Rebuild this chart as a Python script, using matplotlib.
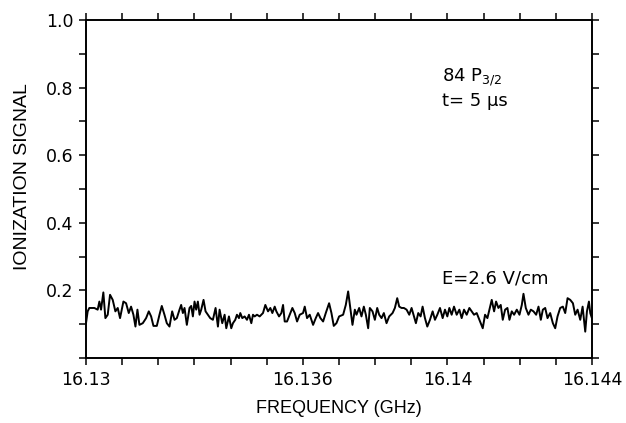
import matplotlib
matplotlib.use("Agg")
import matplotlib.pyplot as plt
import numpy as np

plt.rcParams['font.family'] = ['Liberation Sans', 'DejaVu Sans']
plt.rcParams['mathtext.fontset'] = 'custom'
plt.rcParams['mathtext.rm'] = 'DejaVu Sans'
plt.rcParams['mathtext.it'] = 'DejaVu Sans'

# frequency offset from 16.130 GHz, in MHz
freq_offset_mhz = [
    0.000, 0.046, 0.092, 0.231, 0.323, 0.370, 0.416, 0.480, 0.536, 0.601, 0.665, 0.739, 0.813, 0.878, 0.942,
    1.035, 1.109, 1.183, 1.247, 1.312, 1.368, 1.423, 1.478, 1.571, 1.663, 1.737, 1.802, 1.866, 1.959, 2.033,
    2.097, 2.171, 2.236, 2.310, 2.384, 2.449, 2.513, 2.587, 2.633, 2.680, 2.726, 2.790, 2.864, 2.911, 2.957,
    3.003, 3.049, 3.095, 3.142, 3.188, 3.252, 3.308, 3.373, 3.437, 3.511, 3.585, 3.650, 3.696, 3.770, 3.835,
    3.881, 3.955, 4.019, 4.066, 4.130, 4.176, 4.232, 4.269, 4.324, 4.389, 4.454, 4.509, 4.574, 4.620, 4.666,
    4.731, 4.805, 4.897, 4.962, 5.036, 5.100, 5.156, 5.221, 5.267, 5.341, 5.405, 5.452, 5.498, 5.562, 5.636,
    5.710, 5.775, 5.840,
    5.913, 6.005, 6.052, 6.116, 6.190, 6.283, 6.357, 6.421, 6.486, 6.560, 6.634, 6.726, 6.791, 6.855, 6.929,
    7.003, 7.114, 7.188, 7.253, 7.317, 7.373, 7.438, 7.484, 7.558, 7.622, 7.687, 7.743, 7.807, 7.853, 7.927,
    7.992, 8.057, 8.112, 8.177, 8.241, 8.315, 8.389, 8.482, 8.546, 8.611, 8.666, 8.731, 8.796, 8.870, 8.944,
    9.008, 9.073, 9.128, 9.193, 9.258, 9.313, 9.378, 9.443, 9.517, 9.591, 9.655, 9.720, 9.794, 9.868, 9.932,
    9.997, 10.053, 10.117, 10.182, 10.256, 10.330, 10.394, 10.459, 10.533, 10.607, 10.672, 10.736, 10.810,
    10.884, 10.977, 11.041, 11.106, 11.161, 11.226, 11.291, 11.346, 11.411, 11.475, 11.531, 11.596, 11.660,
    11.716, 11.780, 11.845, 11.919, 11.993, 12.058, 12.104, 12.168, 12.242, 12.307, 12.381, 12.455, 12.520,
    12.584, 12.640, 12.705, 12.769, 12.843, 12.917, 12.982, 13.046, 13.120, 13.194, 13.259, 13.324, 13.398,
    13.472, 13.536, 13.601, 13.675, 13.740, 13.813, 13.860, 13.915, 13.952, 13.998,
]
signal = [
    0.103, 0.138, 0.148, 0.148, 0.143, 0.167, 0.143, 0.194, 0.118, 0.128, 0.187, 0.172, 0.138, 0.148, 0.118,
    0.167, 0.162, 0.133, 0.152, 0.128, 0.093, 0.143, 0.098, 0.103, 0.118, 0.138, 0.123, 0.095, 0.095, 0.128,
    0.154, 0.128, 0.103, 0.093, 0.138, 0.113, 0.118, 0.143, 0.157, 0.133, 0.148, 0.098, 0.148, 0.154, 0.123,
    0.167, 0.143, 0.167, 0.128, 0.143, 0.172, 0.138, 0.128, 0.118, 0.113, 0.148, 0.093, 0.143, 0.103, 0.128,
    0.088, 0.123, 0.088, 0.103, 0.113, 0.128, 0.118, 0.133, 0.118, 0.123, 0.113, 0.128, 0.103, 0.128, 0.123,
    0.128, 0.123, 0.133, 0.157, 0.138, 0.148, 0.133, 0.152, 0.138, 0.123, 0.133, 0.157, 0.108, 0.108, 0.128,
    0.148, 0.133, 0.108,
    0.128, 0.133, 0.152, 0.118, 0.128, 0.098, 0.118, 0.133, 0.118, 0.108, 0.133, 0.162, 0.133, 0.095, 0.103,
    0.123, 0.128, 0.157, 0.197, 0.143, 0.098, 0.143, 0.128, 0.148, 0.123, 0.152, 0.128, 0.088, 0.148, 0.138,
    0.113, 0.148, 0.128, 0.118, 0.133, 0.103, 0.123, 0.133, 0.148, 0.177, 0.152, 0.148, 0.148, 0.143, 0.128,
    0.148, 0.123, 0.103, 0.133, 0.123, 0.152, 0.118, 0.093, 0.113, 0.138, 0.113, 0.128, 0.148, 0.118, 0.143,
    0.123, 0.148, 0.128, 0.152, 0.128, 0.143, 0.118, 0.143, 0.128, 0.148, 0.138, 0.128, 0.133,
    0.113, 0.088, 0.128, 0.118, 0.143, 0.172, 0.138, 0.167, 0.148, 0.157, 0.113, 0.143, 0.148,
    0.113, 0.138, 0.128, 0.143, 0.128, 0.157, 0.190, 0.148, 0.128, 0.143, 0.138, 0.128, 0.152,
    0.113, 0.143, 0.148, 0.118, 0.133, 0.103, 0.088, 0.123, 0.148, 0.152, 0.133, 0.177, 0.172,
    0.162, 0.128, 0.143, 0.113, 0.152, 0.078, 0.138, 0.167, 0.133, 0.118,
]

x_ticks = [16.130, 16.131, 16.132, 16.133, 16.134, 16.135, 16.136, 16.137, 16.138,
           16.139, 16.140, 16.141, 16.142, 16.143, 16.144]
x_tick_labels = ['16.13', '', '', '', '', '', '16.136', '', '', '', '16.14', '', '', '', '16.144']
y_ticks = [0.0, 0.1, 0.2, 0.3, 0.4, 0.5, 0.6, 0.7, 0.8, 0.9, 1.0]
y_tick_labels = ['', '', '0.2', '', '0.4', '', '0.6', '', '0.8', '', '1.0']

freq = 16.130 + np.array(freq_offset_mhz) / 1000.0

fig = plt.figure(figsize=(6.26, 4.23), dpi=100)
ax = fig.add_axes([86 / 626, 1 - 358 / 423, (592 - 86) / 626, (358 - 20) / 423])
ax.plot(freq, signal, color='black', lw=1.4)

ax.set_xlim(16.130, 16.144)
ax.set_ylim(0, 1.0)
ax.set_xticks(x_ticks)
ax.set_xticklabels(x_tick_labels, family='DejaVu Sans', fontsize=12.5)
ax.set_yticks(y_ticks)
ax.set_yticklabels(y_tick_labels, family='DejaVu Sans', fontsize=12.5)
ax.tick_params(direction='out', length=5, width=1.1, colors='black',
               top=True, right=True, pad=4)
for s in ax.spines.values():
    s.set_linewidth(1.4)

ax.set_xlabel('FREQUENCY (GHz)', fontsize=13, labelpad=8)
ax.set_ylabel('IONIZATION SIGNAL', fontsize=14)
ax.yaxis.set_label_coords(-0.108, 0.5355)

ann_font = dict(family='DejaVu Sans', fontsize=13, va='baseline')
ax.text(0.7036, 0.817, r'84 P$_{\mathregular{3/2}}$', transform=ax.transAxes, **ann_font)
ax.text(0.7036, 0.745, 't= 5 μs', transform=ax.transAxes, **ann_font)
ax.text(0.7036, 0.221, 'E=2.6 V/cm', transform=ax.transAxes, **ann_font)

fig.savefig('out.png', dpi=100)
